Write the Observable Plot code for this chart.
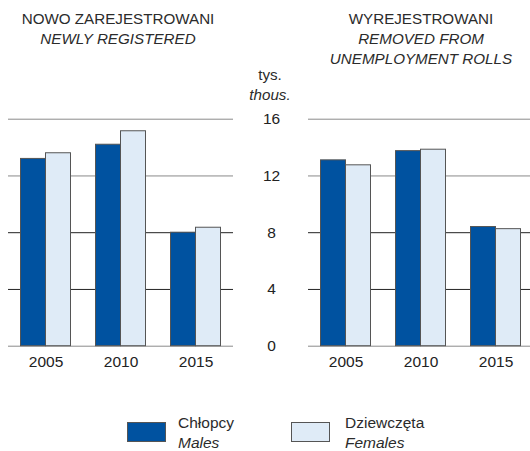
<!DOCTYPE html>
<html>
<head>
<meta charset="utf-8">
<script src="https://cdn.jsdelivr.net/npm/d3@7"></script>
<script src="https://cdn.jsdelivr.net/npm/@observablehq/plot@0.6"></script>
<style>
  html, body { margin: 0; padding: 0; background: #fff; }
  #wrap { position: relative; width: 530px; height: 451px; overflow: hidden;
          font-family: "Liberation Sans", Arial, sans-serif; color: #2b2b2b; }
  .t { position: absolute; white-space: nowrap; transform: translateX(-50%); font-size: 15.2px; line-height: 20px; text-align: center; }
  .i { font-style: italic; }
  #chart { position: absolute; left: 0; top: 100px; }
  .sw { position: absolute; width: 37px; height: 18px; border: 1px solid #555; }
  .lt { position: absolute; font-size: 15.5px; line-height: 20px; white-space: nowrap; }
</style>
</head>
<body>
<div id="wrap">
  <div class="t" style="left:118px; top:9px;">NOWO ZAREJESTROWANI<br><span class="i">NEWLY REGISTERED</span></div>
  <div class="t" style="left:421px; top:9px;">WYREJESTROWANI<br><span class="i">REMOVED FROM<br>UNEMPLOYMENT ROLLS</span></div>
  <div class="t" style="left:270px; top:65px;">tys.<br><span class="i">thous.</span></div>
  <div id="chart"></div>
  <div class="sw" style="left:127px; top:422px; background:#0052A0;"></div>
  <div class="lt" style="left:178px; top:413px;">Chłopcy<br><span class="i">Males</span></div>
  <div class="sw" style="left:291px; top:422px; background:#DFEBF7;"></div>
  <div class="lt" style="left:345px; top:413px;">Dziewczęta<br><span class="i">Females</span></div>
</div>
<script>
const panels = ["new", "removed"];
const years = [2005, 2010, 2015];
const sexes = ["M", "F"];
const newMales = [13.2, 14.2, 8.0];
const newFemales = [13.6, 15.15, 8.35];
const removedMales = [13.1, 13.75, 8.4];
const removedFemales = [12.75, 13.85, 8.25];
const yTicks = [0, 4, 8, 12, 16];
const gridLight = [0, 12, 16];
const gridDark = [4, 8];

const series = {
  new: {M: newMales, F: newFemales},
  removed: {M: removedMales, F: removedFemales}
};

const rows = [];
panels.forEach(p => years.forEach((yr, i) => sexes.forEach((s, k) => {
  rows.push({panel: p, year: yr, i, sex: s, k, value: series[p][s][i]});
})));
const labelRows = panels.flatMap(p => years.map((yr, i) => ({panel: p, year: yr, i})));
const tickRows = yTicks.map(v => ({panel: "new", v}));

const FONT = "'Liberation Sans', Arial, sans-serif";

const chart = Plot.plot({
  width: 530,
  height: 280,
  marginLeft: 7,
  marginRight: -3,
  marginTop: 18.7,
  marginBottom: 34.3,
  style: {fontFamily: FONT, color: "#222", background: "transparent"},
  fx: {domain: panels, paddingInner: 0.25, paddingOuter: 0, axis: null, label: null},
  x: {domain: [-0.5, 8.5], axis: null},
  y: {domain: [0, 16], axis: null},
  color: {domain: sexes, range: ["#0052A0", "#DFEBF7"]},
  marks: [
    Plot.ruleY(gridLight, {stroke: "#8a8a8a", strokeWidth: 1}),
    Plot.ruleY(gridDark, {stroke: "#222", strokeWidth: 1}),
    Plot.rectY(rows, {
      fx: "panel",
      x1: d => d.i * 3 + d.k,
      x2: d => d.i * 3 + d.k + 1,
      y1: 0,
      y2: "value",
      fill: "sex",
      stroke: "#555",
      strokeWidth: 1
    }),
    Plot.text(labelRows, {
      fx: "panel",
      x: d => d.i * 3 + 1,
      y: 0,
      dy: 16,
      text: d => String(d.year),
      fontSize: 15.5,
      fill: "#222"
    }),
    Plot.text(tickRows, {
      fx: "panel",
      y: "v",
      frameAnchor: "right",
      dx: 38,
      textAnchor: "middle",
      text: d => String(d.v),
      fontSize: 15.5,
      fill: "#222"
    })
  ]
});
document.getElementById("chart").appendChild(chart);
</script>
</body>
</html>
